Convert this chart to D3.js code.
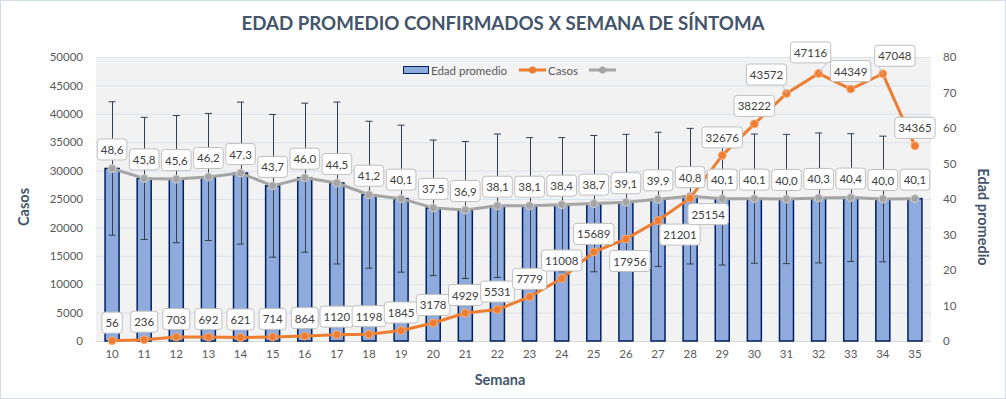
<!DOCTYPE html>
<html>
<head>
<meta charset="utf-8">
<script src="https://cdn.jsdelivr.net/npm/d3@7"></script>
<style>
  body { margin: 0; background: #fff; }
  svg { font-family: Lato, "Open Sans", sans-serif; }
</style>
</head>
<body>
<div id="chart"></div>
<script>
// data
var semanas = [10, 11, 12, 13, 14, 15, 16, 17, 18, 19, 20, 21, 22, 23, 24, 25, 26, 27, 28, 29, 30, 31, 32, 33, 34, 35];
var casos = [56, 236, 703, 692, 621, 714, 864, 1120, 1198, 1845, 3178, 4929, 5531, 7779, 11008, 15689, 17956, 21201, 25154, 32676, 38222, 43572, 47116, 44349, 47048, 34365];
var edad = [48.6, 45.8, 45.6, 46.2, 47.3, 43.7, 46.0, 44.5, 41.2, 40.1, 37.5, 36.9, 38.1, 38.1, 38.4, 38.7, 39.1, 39.9, 40.8, 40.1, 40.1, 40.0, 40.3, 40.4, 40.0, 40.1];
var desvio = [18.8, 17.2, 17.9, 17.9, 20.0, 20.1, 21.0, 22.8, 20.7, 20.7, 19.1, 19.3, 20.2, 19.2, 18.9, 19.2, 19.1, 18.9, 19.1, 18.7, 18.2, 18.2, 18.3, 18.0, 17.7, null];
var casosTicks = d3.range(0, 50001, 5000);
var edadTicks = d3.range(0, 81, 10);

var svgWidth = 1006;
var svgHeight = 399;
var plot = { left: 96, right: 931, top: 57, bottom: 341 };

// where Excel pushed some of the Casos labels
var casosShift = { 26: [4, 22], 27: [22, 14], 28: [18, 16], 31: [-20, -19], 32: [-8, -21], 34: [12, -18] };

var rows = semanas.map(function(s, i) {
  return { semana: s, casos: casos[i], edad: edad[i], sd: desvio[i] };
});

var svg = d3.select("#chart")
  .append("svg")
  .attr("width", svgWidth)
  .attr("height", svgHeight);

// chart frame
svg.append("rect")
  .attr("x", 0.5).attr("y", 0.5)
  .attr("width", svgWidth - 1).attr("height", svgHeight - 1)
  .attr("fill", "#fff")
  .attr("stroke", "#D6DCE5");

// scales
var x = d3.scaleBand().domain(semanas).range([plot.left, plot.right]);
var yCasos = d3.scaleLinear().domain([0, 50000]).range([plot.bottom, plot.top]);
var yEdad = d3.scaleLinear().domain([0, 80]).range([plot.bottom, plot.top]);
var cx = function(d) { return x(d.semana) + x.bandwidth() / 2; };

// plot background + gridlines
svg.append("rect")
  .attr("x", plot.left).attr("y", plot.top)
  .attr("width", plot.right - plot.left).attr("height", plot.bottom - plot.top)
  .attr("fill", "#F2F2F2");

svg.append("g")
  .attr("transform", `translate(${plot.left}, 0)`)
  .call(d3.axisLeft(yCasos).tickValues(casosTicks).tickSize(-(plot.right - plot.left)).tickFormat(""))
  .call(g => g.select(".domain").remove())
  .call(g => g.selectAll("line").attr("stroke", "#DCE2EA"));

// axes
var leftAxis = svg.append("g")
  .attr("transform", `translate(${plot.left}, 0)`)
  .call(d3.axisLeft(yCasos).tickValues(casosTicks).tickSize(0).tickPadding(13).tickFormat(d3.format("d")));

var rightAxis = svg.append("g")
  .attr("transform", `translate(${plot.right}, 0)`)
  .call(d3.axisRight(yEdad).tickValues(edadTicks).tickSize(0).tickPadding(12));

var bottomAxis = svg.append("g")
  .attr("transform", `translate(0, ${plot.bottom})`)
  .call(d3.axisBottom(x).tickSize(0).tickPadding(9));

[leftAxis, rightAxis, bottomAxis].forEach(function(g) {
  g.select(".domain").remove();
  g.selectAll("text").attr("font-size", 11.5).attr("fill", "#595959").attr("font-family", "Lato, sans-serif");
});

svg.append("line")
  .attr("x1", plot.left).attr("x2", plot.right)
  .attr("y1", plot.bottom + 0.5).attr("y2", plot.bottom + 0.5)
  .attr("stroke", "#D9D9D9");

// bars (Edad promedio, right axis)
var barW = 14;
svg.append("g").selectAll("rect")
  .data(rows)
  .enter()
  .append("rect")
  .attr("x", d => cx(d) - barW / 2)
  .attr("y", d => yEdad(d.edad))
  .attr("width", barW)
  .attr("height", d => yEdad(0) - yEdad(d.edad))
  .attr("fill", "#8FAADC")
  .attr("stroke", "#002060")
  .attr("stroke-width", 1.5);

// error bars
var err = svg.append("g")
  .attr("stroke", "#333F50")
  .attr("stroke-width", 1);
var withSd = rows.filter(d => d.sd !== null);
err.selectAll("line.v")
  .data(withSd)
  .enter()
  .append("line")
  .attr("x1", d => Math.round(cx(d)) + 0.5).attr("x2", d => Math.round(cx(d)) + 0.5)
  .attr("y1", d => yEdad(d.edad + d.sd)).attr("y2", d => yEdad(d.edad - d.sd));
["top", "bottom"].forEach(function(end) {
  err.selectAll("line." + end)
    .data(withSd)
    .enter()
    .append("line")
    .attr("x1", d => cx(d) - 3.5).attr("x2", d => cx(d) + 3.5)
    .attr("y1", d => yEdad(end == "top" ? d.edad + d.sd : d.edad - d.sd))
    .attr("y2", d => yEdad(end == "top" ? d.edad + d.sd : d.edad - d.sd));
});

// gray line (edad)
svg.append("path")
  .datum(rows)
  .attr("fill", "none")
  .attr("stroke", "#A5A5A5")
  .attr("stroke-width", 3)
  .attr("stroke-linejoin", "round")
  .attr("d", d3.line().x(cx).y(d => yEdad(d.edad)));

svg.append("g").selectAll("circle")
  .data(rows)
  .enter()
  .append("circle")
  .attr("cx", cx)
  .attr("cy", d => yEdad(d.edad))
  .attr("r", 4)
  .attr("fill", "#A5A5A5")
  .attr("stroke", "#D0D0D0")
  .attr("stroke-width", 1);

// orange line (casos, left axis)
svg.append("path")
  .datum(rows)
  .attr("fill", "none")
  .attr("stroke", "#ED7D31")
  .attr("stroke-width", 3)
  .attr("stroke-linejoin", "round")
  .attr("d", d3.line().x(cx).y(d => yCasos(d.casos)));

svg.append("g").selectAll("circle")
  .data(rows)
  .enter()
  .append("circle")
  .attr("cx", cx)
  .attr("cy", d => yCasos(d.casos))
  .attr("r", 4)
  .attr("fill", "#ED7D31")
  .attr("stroke", "#F4B183")
  .attr("stroke-width", 1);

// data labels
function addLabel(px, py, text, shift, leader) {
  var lx = px + shift[0], ly = py + shift[1];
  var g = svg.append("g");
  var t = g.append("text")
    .attr("x", lx).attr("y", ly)
    .attr("text-anchor", "middle")
    .attr("dominant-baseline", "central")
    .attr("font-size", 11.5)
    .attr("fill", "#404040")
    .text(text);
  var w = t.node().getComputedTextLength() + 7;
  var h = 21;
  if (leader) {
    var ey = shift[1] < 0 ? ly + h / 2 : ly - h / 2;
    g.insert("line", "text")
      .attr("x1", lx + (shift[0] < 0 ? w / 2 - 4 : -w / 2 + 4)).attr("y1", ey)
      .attr("x2", px).attr("y2", py)
      .attr("stroke", "#BFC8D4").attr("stroke-width", 1);
  }
  g.insert("rect", "text")
    .attr("x", lx - w / 2).attr("y", ly - h / 2)
    .attr("width", w).attr("height", h)
    .attr("rx", 3)
    .attr("fill", "#fff")
    .attr("stroke", "#BFBFBF");
}

var fmtEdad = d => d3.format(".1f")(d).replace(".", ",");
rows.forEach(function(d) {
  addLabel(cx(d), yEdad(d.edad), fmtEdad(d.edad), [0, -19], false);
});
rows.forEach(function(d) {
  var s = casosShift[d.semana] || [0, -18];
  var leader = [31, 32, 34].indexOf(d.semana) >= 0;
  addLabel(cx(d), yCasos(d.casos), String(d.casos), s, leader);
});

// legend
var legend = svg.append("g").attr("font-size", 11.5).attr("fill", "#595959");
legend.append("rect")
  .attr("x", 403.5).attr("y", 66.5).attr("width", 25).attr("height", 7)
  .attr("fill", "#8FAADC").attr("stroke", "#002060");
legend.append("text").attr("x", 431).attr("y", 70).attr("dominant-baseline", "central").text("Edad promedio");
[[519, "#ED7D31", "Casos"], [589, "#A5A5A5", ""]].forEach(function(it) {
  legend.append("line")
    .attr("x1", it[0]).attr("x2", it[0] + 27).attr("y1", 70).attr("y2", 70)
    .attr("stroke", it[1]).attr("stroke-width", 3);
  legend.append("circle")
    .attr("cx", it[0] + 13.5).attr("cy", 70).attr("r", 3.5)
    .attr("fill", it[1]);
  if (it[2]) {
    legend.append("text").attr("x", it[0] + 29).attr("y", 70).attr("dominant-baseline", "central").text(it[2]);
  }
});

// titles
svg.append("text")
  .attr("x", 503).attr("y", 23)
  .attr("text-anchor", "middle").attr("dominant-baseline", "central")
  .attr("font-size", 18.7).attr("font-weight", "bold").attr("fill", "#44546A")
  .text("EDAD PROMEDIO CONFIRMADOS X SEMANA DE SÍNTOMA");

svg.append("text")
  .attr("transform", "translate(23, 207) rotate(-90)")
  .attr("text-anchor", "middle").attr("dominant-baseline", "central")
  .attr("font-size", 14.5).attr("font-weight", "bold").attr("fill", "#44546A")
  .text("Casos");

svg.append("text")
  .attr("transform", "translate(983, 217) rotate(90)")
  .attr("text-anchor", "middle").attr("dominant-baseline", "central")
  .attr("font-size", 14.5).attr("font-weight", "bold").attr("fill", "#44546A")
  .text("Edad promedio");

svg.append("text")
  .attr("x", 500).attr("y", 379)
  .attr("text-anchor", "middle").attr("dominant-baseline", "central")
  .attr("font-size", 14.5).attr("font-weight", "bold").attr("fill", "#44546A")
  .text("Semana");
</script>
</body>
</html>
